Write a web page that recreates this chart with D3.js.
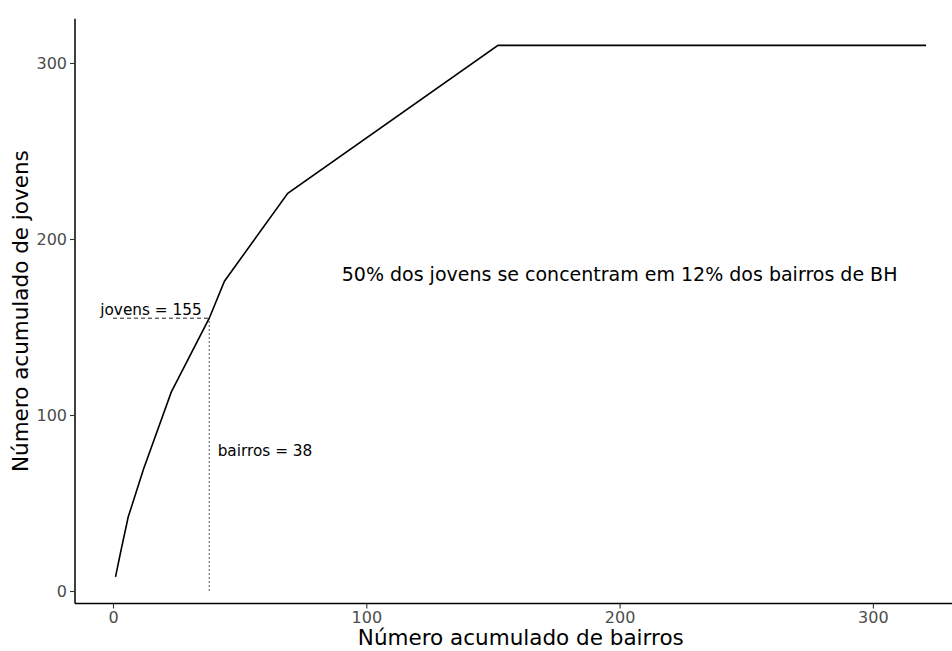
<!DOCTYPE html>
<html><head><meta charset="utf-8">
<script src="https://cdn.jsdelivr.net/npm/d3@7"></script>
<style>
body{margin:0;background:#fff;}
text{font-family:"DejaVu Sans",sans-serif;}
</style></head>
<body>
<svg id="chart" width="952" height="651"></svg>
<script>
// Data
const bairros = [1, 3, 6, 12, 23, 38, 44, 69, 152, 321];
const jovens  = [8, 22, 42, 69, 113, 155, 176, 226, 310, 310];
const xTicks = [0, 100, 200, 300];
const yTicks = [0, 100, 200, 300];
const refBairros = 38;
const refJovens = 155;
const labelJovens = "jovens = 155";
const labelBairros = "bairros = 38";
const mainLabel = "50% dos jovens se concentram em 12% dos bairros de BH";
const xTitle = "Número acumulado de bairros";
const yTitle = "Número acumulado de jovens";

const svg = d3.select("#chart");
const pLeft = 75, pRight = 966.6, pTop = 18.8, pBottom = 603.5;

// ggplot-like 5% expansion
const xr = d3.extent(bairros), yr = d3.extent(jovens);
const xe = (xr[1]-xr[0])*0.05, ye = (yr[1]-yr[0])*0.05;
const x = d3.scaleLinear().domain([xr[0]-xe, xr[1]+xe]).range([pLeft, pRight]);
const y = d3.scaleLinear().domain([yr[0]-ye, yr[1]+ye]).range([pBottom, pTop]);

// Reference lines
svg.append("line")
  .attr("x1", x(0)).attr("x2", x(refBairros))
  .attr("y1", y(refJovens)).attr("y2", y(refJovens))
  .attr("stroke", "#222").attr("stroke-width", 1).attr("stroke-dasharray", "4,3");
svg.append("line")
  .attr("x1", x(refBairros)).attr("x2", x(refBairros))
  .attr("y1", y(0)).attr("y2", y(refJovens))
  .attr("stroke", "#555").attr("stroke-width", 1).attr("stroke-dasharray", "2,2");

// Curve
const pts = bairros.map((b, i) => [b, jovens[i]]);
svg.append("path")
  .attr("d", d3.line().x(d => x(d[0])).y(d => y(d[1]))(pts))
  .attr("fill", "none").attr("stroke", "#000").attr("stroke-width", 1.6);

// Annotations
svg.append("text").attr("x", x(15)).attr("y", y(160)).attr("dy", "0.35em")
  .attr("text-anchor", "middle").attr("font-size", 15.3).attr("fill", "#000").text(labelJovens);
svg.append("text").attr("x", x(60)).attr("y", y(80)).attr("dy", "0.35em")
  .attr("text-anchor", "middle").attr("font-size", 15.3).attr("fill", "#000").text(labelBairros);
svg.append("text").attr("x", x(200)).attr("y", y(180)).attr("dy", "0.35em")
  .attr("text-anchor", "middle").attr("font-size", 19).attr("fill", "#000").text(mainLabel);

// Axes
const xAxis = svg.append("g").attr("transform", `translate(0,${pBottom})`)
  .call(d3.axisBottom(x).tickValues(xTicks).tickSize(5).tickPadding(3));
const yAxis = svg.append("g").attr("transform", `translate(${pLeft},0)`)
  .call(d3.axisLeft(y).tickValues(yTicks).tickSize(5).tickPadding(3));
[xAxis, yAxis].forEach(g => {
  g.select(".domain").attr("stroke", "#000").attr("stroke-width", 1.5);
  g.selectAll(".tick line").attr("stroke", "#333").attr("stroke-width", 1.1);
  g.selectAll(".tick text").attr("fill", "#4d4d4d").attr("font-size", 16)
    .attr("font-family", '"DejaVu Sans",sans-serif');
});
xAxis.select(".domain").attr("d", `M${pLeft},0H${pRight}`);
yAxis.select(".domain").attr("d", `M0,${pTop}V${pBottom}`);

// Titles
svg.append("text").attr("x", (pLeft+pRight)/2).attr("y", 645)
  .attr("text-anchor", "middle").attr("font-size", 21.5).attr("fill", "#000").text(xTitle);
svg.append("text").attr("transform", `translate(28,${(pTop+pBottom)/2}) rotate(-90)`)
  .attr("text-anchor", "middle").attr("font-size", 21.5).attr("fill", "#000").text(yTitle);
</script>
</body></html>
